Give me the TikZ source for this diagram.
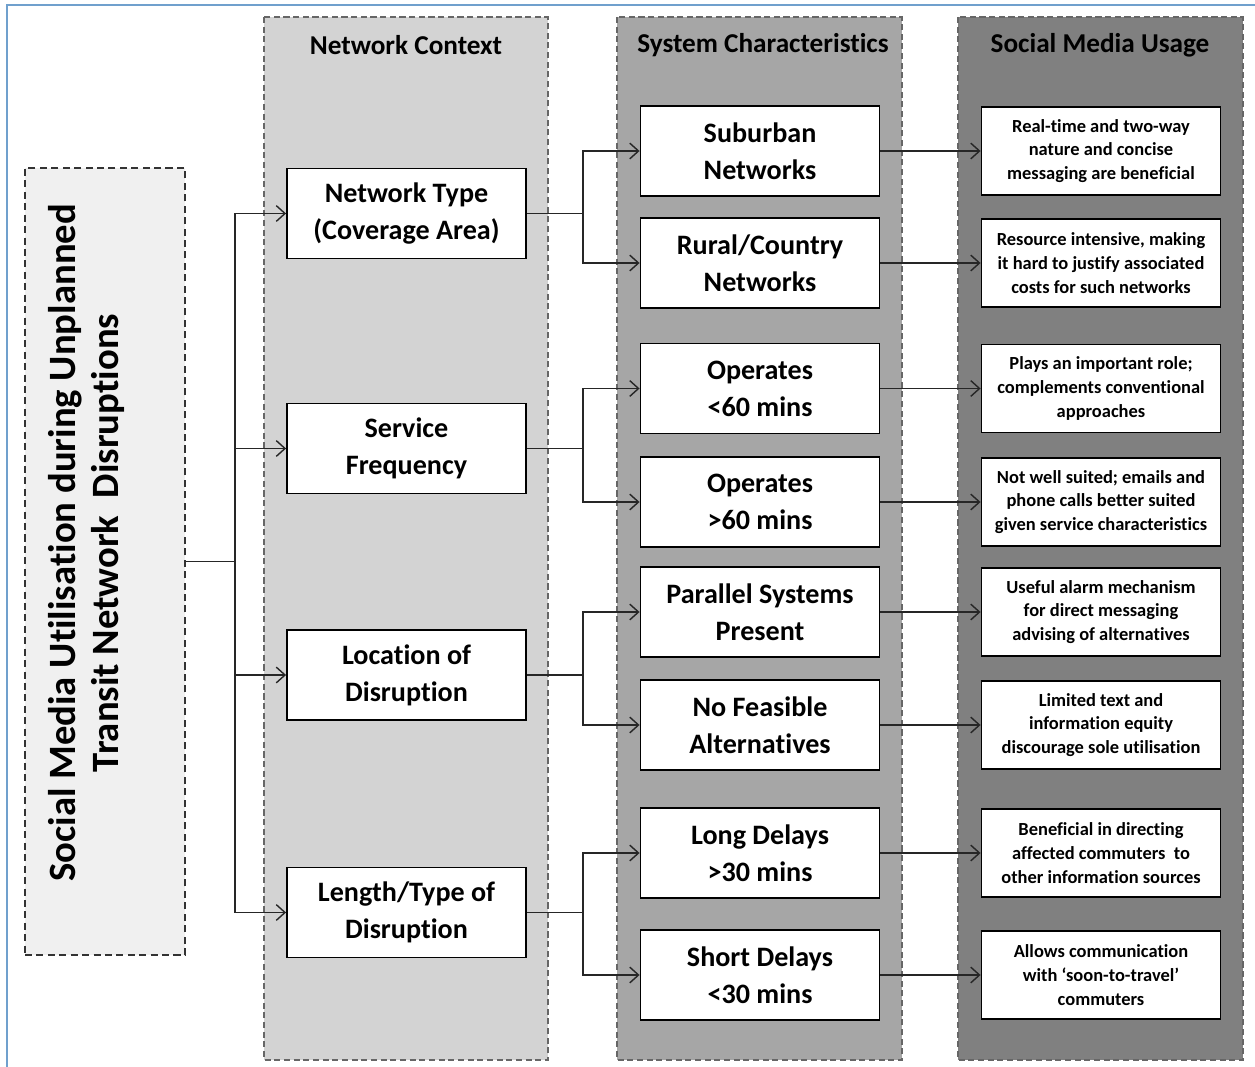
\documentclass[tikz,border=0pt]{standalone}
\usepackage{fontspec}
\setmainfont{Carlito}[Ligatures=NoCommon]
\usepackage{xcolor}
\usepackage{tikz}
\usetikzlibrary{arrows.meta}

\definecolor{frameblue}{RGB}{112,160,205}
\definecolor{leftgray}{RGB}{240,240,240}
\definecolor{ctxgray}{RGB}{211,211,211}
\definecolor{sysgray}{RGB}{166,166,166}
\definecolor{usegray}{RGB}{128,128,128}

\begin{document}
\begin{tikzpicture}[x=0.02cm,y=-0.02cm]

    \tikzstyle{frame line}=[line width=0.9pt,color=frameblue]
    \tikzstyle{column}=[dashed,dash pattern=on 3.5pt off 2pt,line width=0.7pt,color=black!60]
    \tikzstyle{column title}=[font=\fontsize{15.5}{18}\selectfont\bfseries,anchor=center]
    \tikzstyle{factor}=[draw,line width=1.1pt,fill=white,inner sep=0pt,align=center,
        minimum width=4.78cm,minimum height=1.8cm,font=\fontsize{16}{21}\selectfont\bfseries]
    \tikzstyle{usage}=[draw,line width=1.1pt,fill=white,inner sep=0pt,align=center,
        minimum width=4.78cm,minimum height=1.76cm,font=\fontsize{10.5}{13.6}\selectfont\bfseries]
    \tikzstyle{link}=[line width=0.8pt,color=black!85]
    \tikzstyle{vector}=[-{Straight Barb[length=5pt,width=9pt]},line width=0.8pt,color=black!85]

    \useasboundingbox (0,0) rectangle (1255,1067);
    \fill[white] (0,0) rectangle (1255,1067);
    \draw[style=frame line] (7,5) rectangle (1300,1120);

    % Column backgrounds
    \draw[style=column,fill=ctxgray] (264,17) rectangle (548,1060);
    \draw[style=column,fill=sysgray] (617,17) rectangle (902,1060);
    \draw[style=column,fill=usegray] (958,17) rectangle (1243,1060);
    \node[style=column title] (ctx) at (406,45) {Network Context};
    \node[style=column title] (sys) at (763,45) {System Characteristics};
    \node[style=column title] (use) at (1100,45) {Social Media Usage};

    % Main topic
    \node[draw,dashed,dash pattern=on 4pt off 2.5pt,line width=0.9pt,color=black!80,fill=leftgray,
          minimum width=3.2cm,minimum height=15.74cm,inner sep=0pt] (topic) at (105,561.5) {};
    \node[rotate=90,align=center,font=\fontsize{22}{24.5}\selectfont\bfseries] (topictext) at (86,543)
        {Social Media Utilisation during Unplanned\\Transit Network\ \ Disruptions};

    % Network context
    \node[style=factor] (n1) at (406.5,213.5) {Network Type\\(Coverage Area)};
    \node[style=factor] (n2) at (406.5,448.5) {Service\\Frequency};
    \node[style=factor] (n3) at (406.5,675) {Location of\\Disruption};
    \node[style=factor] (n4) at (406.5,912.5) {Length/Type of\\Disruption};

    % System characteristics
    \node[style=factor] (s1) at (760,151) {Suburban\\Networks};
    \node[style=factor] (s2) at (760,263) {Rural/Country\\Networks};
    \node[style=factor] (s3) at (760,388.5) {Operates\\<60 mins};
    \node[style=factor] (s4) at (760,502) {Operates\\>60 mins};
    \node[style=factor] (s5) at (760,612) {Parallel Systems\\Present};
    \node[style=factor] (s6) at (760,725) {No Feasible\\Alternatives};
    \node[style=factor] (s7) at (760,853) {Long Delays\\>30 mins};
    \node[style=factor] (s8) at (760,975) {Short Delays\\<30 mins};

    % Social media usage
    \node[style=usage] (u1) at (1101,151) {Real-time and two-way\\nature and concise\\messaging are beneficial};
    \node[style=usage] (u2) at (1101,263) {Resource intensive, making\\it hard to justify associated\\costs for such networks};
    \node[style=usage] (u3) at (1101,388.5) {Plays an important role;\\complements conventional\\approaches};
    \node[style=usage] (u4) at (1101,502) {Not well suited; emails and\\phone calls better suited\\given service characteristics};
    \node[style=usage] (u5) at (1101,612) {Useful alarm mechanism\\for direct messaging\\advising of alternatives};
    \node[style=usage] (u6) at (1101,725) {Limited text and\\information equity\\discourage sole utilisation};
    \node[style=usage] (u7) at (1101,853) {Beneficial in directing\\affected commuters\ \ to\\other information sources};
    \node[style=usage] (u8) at (1101,975) {Allows communication\\with ‘soon-to-travel’\\commuters};

    % Topic to network context
    \coordinate (trunk) at (235,561.5);
    \draw[style=link] (topic.east) -- (trunk);
    \draw[style=vector] (trunk) |- (n1.west);
    \draw[style=vector] (trunk) |- (n2.west);
    \draw[style=vector] (trunk) |- (n3.west);
    \draw[style=vector] (trunk) |- (n4.west);

    % Network context to system characteristics
    \coordinate (b1) at (583,213.5);
    \coordinate (b2) at (583,448.5);
    \coordinate (b3) at (583,675);
    \coordinate (b4) at (583,912.5);
    \draw[style=link] (n1.east) -- (b1);
    \draw[style=link] (n2.east) -- (b2);
    \draw[style=link] (n3.east) -- (b3);
    \draw[style=link] (n4.east) -- (b4);
    \draw[style=vector] (b1) |- (s1.west);
    \draw[style=vector] (b1) |- (s2.west);
    \draw[style=vector] (b2) |- (s3.west);
    \draw[style=vector] (b2) |- (s4.west);
    \draw[style=vector] (b3) |- (s5.west);
    \draw[style=vector] (b3) |- (s6.west);
    \draw[style=vector] (b4) |- (s7.west);
    \draw[style=vector] (b4) |- (s8.west);

    % System characteristics to usage
    \draw[style=vector] (s1) -- (u1);
    \draw[style=vector] (s2) -- (u2);
    \draw[style=vector] (s3) -- (u3);
    \draw[style=vector] (s4) -- (u4);
    \draw[style=vector] (s5) -- (u5);
    \draw[style=vector] (s6) -- (u6);
    \draw[style=vector] (s7) -- (u7);
    \draw[style=vector] (s8) -- (u8);

\end{tikzpicture}
\end{document}
